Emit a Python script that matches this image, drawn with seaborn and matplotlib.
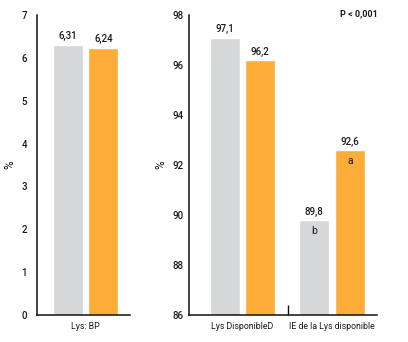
import matplotlib
matplotlib.use("Agg")
import matplotlib.pyplot as plt
import seaborn as sns
import pandas as pd

# Values
groups = ["Témoin", "Essai"]
left_categories = ["Lys: BP"]
left_values = {"Témoin": [6.31], "Essai": [6.24]}
right_categories = ["Lys DisponibleD", "IE de la Lys disponible"]
right_values = {"Témoin": [97.1, 89.8], "Essai": [96.2, 92.6]}
right_letters = {"Témoin": ["", "b"], "Essai": ["", "a"]}
left_yticks = list(range(0, 8))
right_yticks = list(range(86, 99, 2))
p_text = "P < 0,001"

palette = {"Témoin": "#D6D7D9", "Essai": "#FCAD37"}

sns.set_theme(style="white")
plt.rcParams["font.family"] = ["Roboto", "DejaVu Sans"]


def frame(categories, values):
    rows = []
    for g in groups:
        for c, v in zip(categories, values[g]):
            rows.append({"cat": c, "grp": g, "val": v})
    return pd.DataFrame(rows)


def fmt(v):
    return f"{v:.2f}".replace(".", ",") if v < 10 else f"{v:.1f}".replace(".", ",")


fig = plt.figure(figsize=(4.08, 3.42), dpi=100)
axl = fig.add_axes([36.7 / 408, 1 - 315 / 342, (130 - 36.7) / 408, 300 / 342])
axr = fig.add_axes([189.3 / 408, 1 - 315 / 342, (377 - 189.3) / 408, 300 / 342])

dl = frame(left_categories, left_values)
dr = frame(right_categories, right_values)

sns.barplot(data=dl, x="cat", y="val", hue="grp", hue_order=groups,
            palette=palette, gap=0.16, legend=False, ax=axl, saturation=1)
sns.barplot(data=dr, x="cat", y="val", hue="grp", hue_order=groups,
            palette=palette, gap=0.16, legend=False, ax=axr, saturation=1)

for ax, vals in ((axl, left_values), (axr, right_values)):
    for g, cont in zip(groups, ax.containers):
        ax.bar_label(cont, labels=[fmt(v) for v in vals[g]], padding=2.5,
                     fontsize=7, fontweight="medium", color="#1a1a1a")
    for s in ("top", "right"):
        ax.spines[s].set_visible(False)
    for s in ("left", "bottom"):
        ax.spines[s].set_color("#111111")
        ax.spines[s].set_linewidth(1.1)
    ax.set_xlabel("")
    ax.set_ylabel("%", fontsize=8.5, color="#111111")
    ax.tick_params(axis="y", direction="in", length=6, width=1.0, color="#111111",
                   labelsize=7, labelcolor="#1a1a1a")
    ax.tick_params(axis="x", length=0, labelsize=6.3, labelcolor="#1a1a1a", pad=5)
    for t in ax.get_yticklabels():
        t.set_fontweight("medium")

# Letters of significance inside the bars
for g, cont in zip(groups, axr.containers):
    for bar, letter in zip(cont, right_letters[g]):
        if letter:
            axr.annotate(letter, (bar.get_x() + bar.get_width() / 2, bar.get_height()),
                         xytext=(0, -4.5), textcoords="offset points",
                         ha="center", va="top", fontsize=7.5, color="#1a1a1a")

axl.set_ylim(0, 7)
axl.set_yticks(left_yticks)
axl.set_xlim(-0.55, 0.50)
axl.tick_params(axis="y", pad=7)
axl.yaxis.set_label_coords(-0.215, 0.5)

axr.set_ylim(86, 98)
axr.set_yticks(right_yticks)
axr.set_xlim(-0.594, 1.503)
axr.tick_params(axis="y", pad=4)
axr.yaxis.set_label_coords(-0.115, 0.5)
axr.set_xticks([0.51], minor=True)
axr.tick_params(axis="x", which="minor", direction="in", length=7, width=1.0,
                color="#111111", bottom=True)

fig.text(359 / 408, 1 - 14 / 342, p_text, ha="center", va="center",
         fontsize=6.5, fontweight="bold", color="#1a1a1a")

fig.savefig("out.png", dpi=100)
